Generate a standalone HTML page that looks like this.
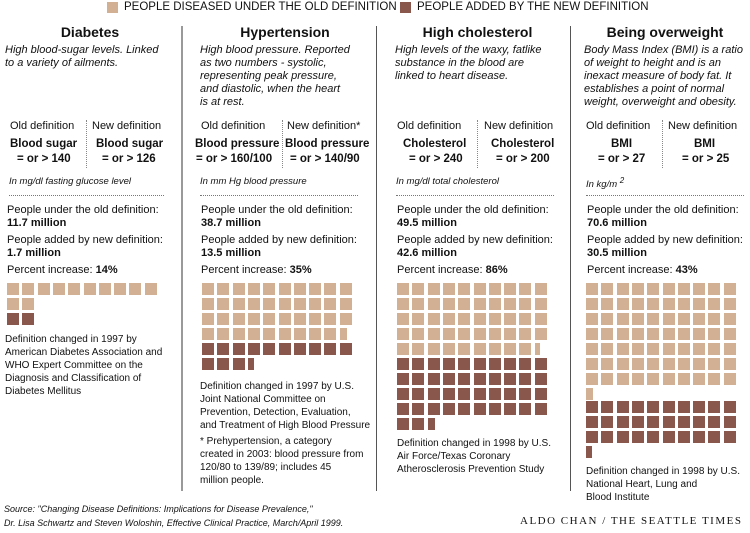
<!DOCTYPE html>
<html><head><meta charset="utf-8"><style>
body{margin:0;width:750px;height:533px;background:#fff;position:relative;overflow:hidden;font-family:"Liberation Sans",sans-serif;color:#111}
.a{position:absolute;white-space:nowrap}
.t{font-weight:bold;font-size:14px;text-align:center}
.i{font-style:italic;font-size:11px;line-height:13px}
.s{font-size:11px}
.b{font-weight:bold;font-size:11.5px}
.p{font-size:11px}
.pb{font-weight:bold;font-size:11px}
.sm{font-style:italic;font-size:9.5px}
.vs{position:absolute;width:2px;background:#999;top:26px}
.dot{position:absolute;height:0;border-top:1px dotted #777}
.vd{position:absolute;width:0;border-left:1px dotted #888}
.sq{position:absolute;height:12px}
.o{background:#d2b093}.n{background:#8a574d}
</style></head><body>
<div class="a" style="left:107px;top:2px;width:11px;height:11px;background:#d2b093"></div>
<div class="a s" style="left:124px;top:1px;font-size:11.5px">PEOPLE DISEASED UNDER THE OLD DEFINITION</div>
<div class="a" style="left:400px;top:2px;width:11px;height:11px;background:#8a574d"></div>
<div class="a s" style="left:417px;top:1px;font-size:11.5px">PEOPLE ADDED BY THE NEW DEFINITION</div>

<div class="vs" style="left:181px;height:465px"></div>
<div class="vs" style="left:376px;height:465px;background:#555;width:1px"></div>
<div class="vs" style="left:570px;height:465px;background:#555;width:1px"></div>

<!-- col1 -->
<div class="a t" style="left:5px;width:170px;top:24px">Diabetes</div>
<div class="a i" style="left:5px;top:44px">High blood-sugar levels. Linked<br>to a variety of ailments.</div>
<div class="a s" style="left:10px;top:120px">Old definition</div>
<div class="a s" style="left:92px;top:120px">New definition</div>
<div class="vd" style="left:86px;top:120px;height:48px"></div>
<div class="a b" style="left:10px;top:138px">Blood sugar</div>
<div class="a b" style="left:17px;top:153px">= or &gt; 140</div>
<div class="a b" style="left:96px;top:138px">Blood sugar</div>
<div class="a b" style="left:102px;top:153px">= or &gt; 126</div>
<div class="a sm" style="left:9px;top:176px">In mg/dl fasting glucose level</div>
<div class="dot" style="left:9px;top:195px;width:155px"></div>
<div class="a p" style="left:7px;top:204px">People under the old definition:</div>
<div class="a pb" style="left:7px;top:217px">11.7 million</div>
<div class="a p" style="left:7px;top:234px">People added by new definition:</div>
<div class="a pb" style="left:7px;top:247px">1.7 million</div>
<div class="a p" style="left:7px;top:264px">Percent increase: <b>14%</b></div>
<div class="a" style="left:5px;top:333px;font-size:10px;line-height:13px">Definition changed in 1997 by<br>American Diabetes Association and<br>WHO Expert Committee on the<br>Diagnosis and Classification of<br>Diabetes Mellitus</div>

<!-- col2 -->
<div class="a t" style="left:195px;width:180px;top:24px">Hypertension</div>
<div class="a i" style="left:200px;top:44px">High blood pressure. Reported<br>as two numbers - systolic,<br>representing peak pressure,<br>and diastolic, when the heart<br>is at rest.</div>
<div class="a s" style="left:201px;top:120px">Old definition</div>
<div class="a s" style="left:287px;top:120px">New definition*</div>
<div class="vd" style="left:282px;top:120px;height:48px"></div>
<div class="a b" style="left:195px;top:138px">Blood pressure</div>
<div class="a b" style="left:196px;top:153px">= or &gt; 160/100</div>
<div class="a b" style="left:285px;top:138px">Blood pressure</div>
<div class="a b" style="left:290px;top:153px">= or &gt; 140/90</div>
<div class="a sm" style="left:200px;top:176px">In mm Hg blood pressure</div>
<div class="dot" style="left:200px;top:195px;width:158px"></div>
<div class="a p" style="left:201px;top:204px">People under the old definition:</div>
<div class="a pb" style="left:201px;top:217px">38.7 million</div>
<div class="a p" style="left:201px;top:234px">People added by new definition:</div>
<div class="a pb" style="left:201px;top:247px">13.5 million</div>
<div class="a p" style="left:201px;top:264px">Percent increase: <b>35%</b></div>
<div class="a" style="left:200px;top:380px;font-size:10px;line-height:13px">Definition changed in 1997 by U.S.<br>Joint National Committee on<br>Prevention, Detection, Evaluation,<br>and Treatment of High Blood Pressure</div>
<div class="a" style="left:200px;top:435px;font-size:10px;line-height:13px">* Prehypertension, a category<br>created in 2003: blood pressure from<br>120/80 to 139/89; includes 45<br>million people.</div>

<!-- col3 -->
<div class="a t" style="left:390px;width:175px;top:24px">High cholesterol</div>
<div class="a i" style="left:395px;top:44px">High levels of the waxy, fatlike<br>substance in the blood are<br>linked to heart disease.</div>
<div class="a s" style="left:397px;top:120px">Old definition</div>
<div class="a s" style="left:484px;top:120px">New definition</div>
<div class="vd" style="left:477px;top:120px;height:48px"></div>
<div class="a b" style="left:403px;top:138px">Cholesterol</div>
<div class="a b" style="left:409px;top:153px">= or &gt; 240</div>
<div class="a b" style="left:491px;top:138px">Cholesterol</div>
<div class="a b" style="left:496px;top:153px">= or &gt; 200</div>
<div class="a sm" style="left:396px;top:176px">In mg/dl total cholesterol</div>
<div class="dot" style="left:396px;top:195px;width:158px"></div>
<div class="a p" style="left:397px;top:204px">People under the old definition:</div>
<div class="a pb" style="left:397px;top:217px">49.5 million</div>
<div class="a p" style="left:397px;top:234px">People added by new definition:</div>
<div class="a pb" style="left:397px;top:247px">42.6 million</div>
<div class="a p" style="left:397px;top:264px">Percent increase: <b>86%</b></div>
<div class="a" style="left:397px;top:437px;font-size:10px;line-height:13px">Definition changed in 1998 by U.S.<br>Air Force/Texas Coronary<br>Atherosclerosis Prevention Study</div>

<!-- col4 -->
<div class="a t" style="left:580px;width:170px;top:24px">Being overweight</div>
<div class="a i" style="left:584px;top:44px">Body Mass Index (BMI) is a ratio<br>of weight to height and is an<br>inexact measure of body fat. It<br>establishes a point of normal<br>weight, overweight and obesity.</div>
<div class="a s" style="left:586px;top:120px">Old definition</div>
<div class="a s" style="left:668px;top:120px">New definition</div>
<div class="vd" style="left:662px;top:120px;height:48px"></div>
<div class="a b" style="left:611px;top:138px">BMI</div>
<div class="a b" style="left:598px;top:153px">= or &gt; 27</div>
<div class="a b" style="left:694px;top:138px">BMI</div>
<div class="a b" style="left:682px;top:153px">= or &gt; 25</div>
<div class="a sm" style="left:586px;top:176px">In kg/m <sup style="font-size:8px">2</sup></div>
<div class="dot" style="left:586px;top:195px;width:158px"></div>
<div class="a p" style="left:587px;top:204px">People under the old definition:</div>
<div class="a pb" style="left:587px;top:217px">70.6 million</div>
<div class="a p" style="left:587px;top:234px">People added by new definition:</div>
<div class="a pb" style="left:587px;top:247px">30.5 million</div>
<div class="a p" style="left:587px;top:264px">Percent increase: <b>43%</b></div>
<div class="a" style="left:586px;top:465px;font-size:10px;line-height:13px">Definition changed in 1998 by U.S.<br>National Heart, Lung and<br>Blood Institute</div>

<div class="a" style="left:4px;top:502px;font-size:9px;font-style:italic;line-height:14px">Source: "Changing Disease Definitions: Implications for Disease Prevalence,"<br>Dr. Lisa Schwartz and Steven Woloshin, Effective Clinical Practice, March/April 1999.</div>
<div class="a" style="left:520px;top:515px;font-family:'Liberation Serif',serif;font-size:11px;letter-spacing:1.5px">ALDO CHAN / THE SEATTLE TIMES</div>

<div id="g"></div>
<script>
var g=document.getElementById('g'),h='';
function rows(x,y,spec,cls){
 spec.forEach(function(r,ri){for(var i=0;i<r[0];i++){var w=(i==r[0]-1&&r[1])?r[1]:12;
 h+='<div class="sq '+cls+'" style="left:'+(x+i*15.3)+'px;top:'+(y+ri*15)+'px;width:'+w+'px"></div>';}});
}
rows(7,283,[[10],[2]],'o');rows(7,313,[[2]],'n');
rows(202,283,[[10],[10],[10],[10,7]],'o');rows(202,343,[[10],[4,6]],'n');
rows(397,283,[[10],[10],[10],[10],[10,5]],'o');rows(397,358,[[10],[10],[10],[10],[3,7]],'n');
rows(586,283,[[10],[10],[10],[10],[10],[10],[10],[1,7]],'o');rows(586,401,[[10],[10],[10],[1,6]],'n');
g.innerHTML=h;
</script>
</body></html>
